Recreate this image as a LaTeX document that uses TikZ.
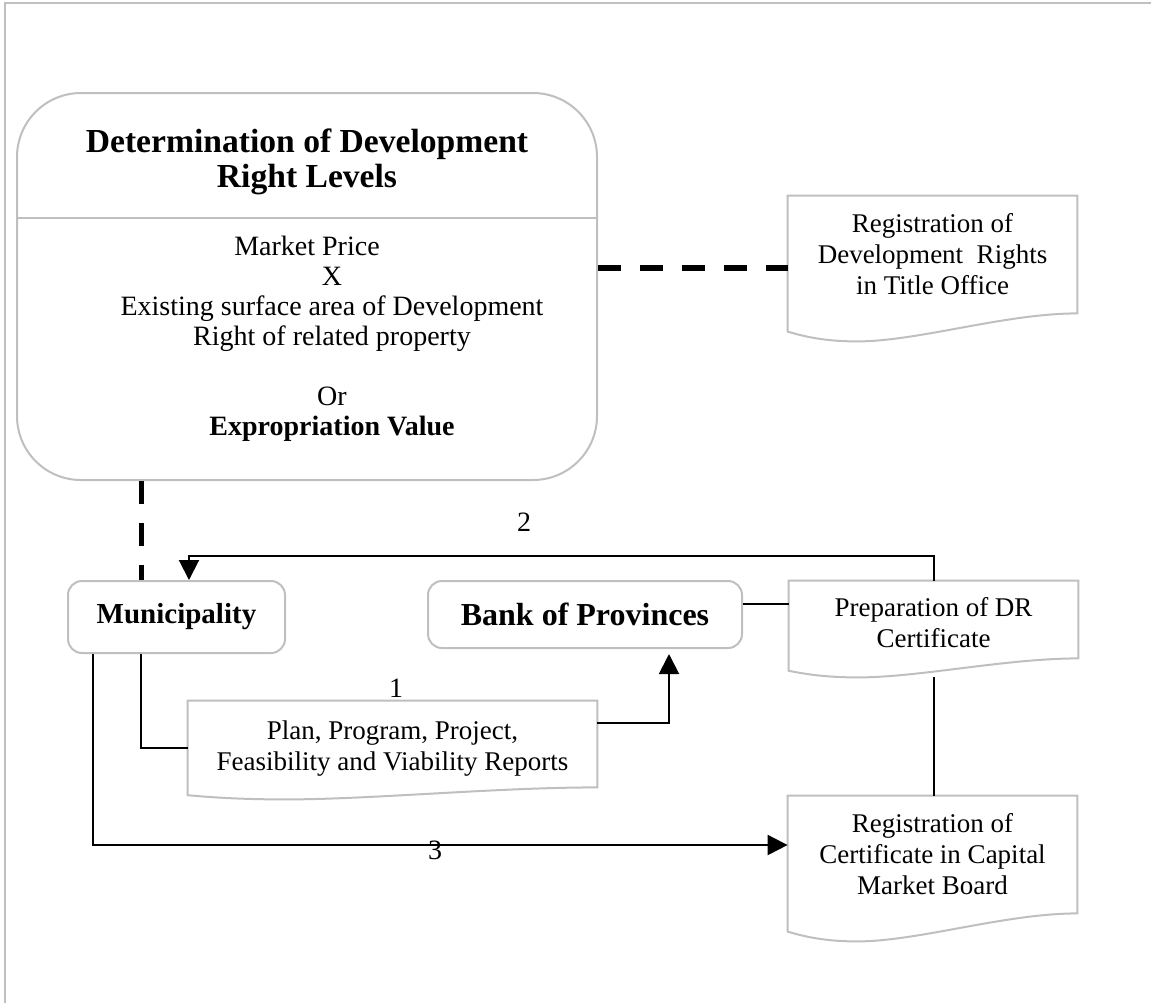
\documentclass[tikz,border=0pt]{standalone}
\usepackage{fontspec}
\setmainfont{Liberation Serif}
\usetikzlibrary{arrows.meta, calc}

\definecolor{boxgray}{RGB}{191,191,191}
\definecolor{framegray}{RGB}{192,192,192}

\newcommand{\dttitle}{\bfseries\fontsize{16.8pt}{17.5pt}\selectfont}
\newcommand{\dtbody}{\fontsize{14pt}{15pt}\selectfont}
\newcommand{\dtdoc}{\fontsize{13.5pt}{15.5pt}\selectfont}

% document outline with a wavy bottom edge
\newcommand{\docwave}[2]{%
  \draw[docline] ($(#1.south west)+(0pt,-0.65*#2)$) -- (#1.north west) -- (#1.north east) -- (#1.south east)
    .. controls ($(#1.south west)!0.75!(#1.south east)$) and ($(#1.south west)!0.45!(#1.south east)+(0pt,-#2)$)
    .. ($(#1.south west)!0.24!(#1.south east)+(0pt,-#2)$)
    .. controls ($(#1.south west)!0.12!(#1.south east)+(0pt,-#2)$) and ($(#1.south west)!0.05!(#1.south east)+(0pt,-0.8*#2)$)
    .. ($(#1.south west)+(0pt,-0.65*#2)$) -- cycle;}

\begin{document}
\begin{tikzpicture}[x=0.5pt, y=-0.5pt,
    procbox/.style={draw=boxgray, line width=1pt, rounded corners=7pt, inner sep=0pt},
    docbox/.style={inner sep=0pt},
    doctext/.style={inner sep=0pt, align=center, font=\dtdoc},
    docline/.style={draw=boxgray, line width=1pt},
    link/.style={draw=black, line width=1pt},
    dashlink/.style={draw=black, line width=2.8pt, dash pattern=on 11.5pt off 9.5pt},
    tip/.style={-{Triangle[length=10pt, width=10pt]}},
    numlabel/.style={font=\fontsize{14pt}{16pt}\selectfont}]
    \useasboundingbox (0,0) rectangle (1151,1003);
    \draw[framegray, line width=1.25pt] (5,1003) -- (5,3) -- (1151,3);

    % Draw nodes
    \node[procbox, rounded corners=32pt, minimum width=290pt, minimum height=193.5pt] (det) at (307,286.5) {};
    \node[font=\dttitle, align=center] (dettitle) at (307,162) {Determination of Development\\Right Levels};
    \node[font=\dtbody] (mprice) at (307,246) {Market Price};
    \node[font=\dtbody, align=center] (detbody) at (332,354) {X\\Existing surface area of Development\\Right of related property\\[15pt]Or\\\textbf{Expropriation Value}};
    \coordinate (split) at (0,218);
    \draw[docline] (det.west |- split) -- (det.east |- split);

    \node[procbox, minimum width=108.5pt, minimum height=36pt, font=\bfseries\fontsize{14.5pt}{16pt}\selectfont] (munic) at (176.5,617) {Municipality};
    \node[procbox, minimum width=157pt, minimum height=33.5pt, font=\bfseries\fontsize{16pt}{18pt}\selectfont] (bank) at (585,614.5) {Bank of Provinces};

    \node[docbox, minimum width=144.5pt, minimum height=58.5pt] (titleoff) at (932.5,254.5) {};
    \node[docbox, minimum width=144.5pt, minimum height=38.5pt] (prep) at (933.5,619.5) {};
    \node[docbox, minimum width=204.5pt, minimum height=43pt] (plan) at (392.5,744) {};
    \node[docbox, minimum width=144.5pt, minimum height=58.5pt] (regcert) at (932.5,854.5) {};

    \node[doctext] (titleofftext) at (titleoff.center) {Registration of\\Development\ \ Rights\\in Title Office};
    \node[doctext] (preptext) at ([yshift=-1.75pt]prep.center) {Preparation of DR\\Certificate};
    \node[doctext] (plantext) at ([yshift=-2.5pt]plan.center) {Plan, Program, Project,\\Feasibility and Viability Reports};
    \node[doctext] (regcerttext) at (regcert.center) {Registration of\\Certificate in Capital\\Market Board};

    \docwave{titleoff}{14pt}
    \docwave{prep}{9.5pt}
    \docwave{plan}{6pt}
    \docwave{regcert}{14pt}

    % Draw connections
    \coordinate (dashin) at ([yshift=-6.75pt]titleoff.west);
    \draw[dashlink] (dashin -| det.east) -- (dashin);
    \coordinate (dashdown) at ([xshift=-17.5pt]munic.north);
    \draw[dashlink] (dashdown |- det.south) -- (dashdown);

    \draw[link, tip] (prep.north) -- ++(0,-25) -| ([xshift=6.25pt]munic.north);
    \draw[link] ([yshift=5.25pt]bank.east) -- ([yshift=5.25pt]bank.east -| prep.west);
    \draw[link] ([xshift=-17.75pt]munic.south) |- ([yshift=-2pt]plan.west);
    \draw[link, tip, shorten >=2.5pt] ([yshift=10.5pt]plan.east) -| ([xshift=42pt]bank.south);
    \draw[link, tip] ([xshift=-41.75pt]munic.south) |- ([yshift=4.75pt]regcert.west);
    \coordinate (prepfoot) at ([yshift=-9.5pt]prep.south);
    \draw[link] (prepfoot) -- (prepfoot |- regcert.north);

    % Labels
    \node[numlabel] (lab1) at (396,688) {1};
    \node[numlabel] (lab2) at (524,522) {2};
    \node[numlabel] (lab3) at (435,850) {3};
\end{tikzpicture}
\end{document}
